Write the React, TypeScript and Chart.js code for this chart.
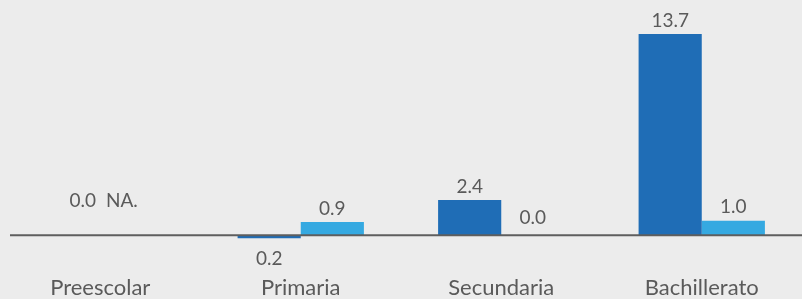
import React, { useEffect, useRef } from "react";
import { Chart, registerables } from "chart.js";

Chart.register(...registerables);

const categories = ["Preescolar", "Primaria", "Secundaria", "Bachillerato"];
const seriesA: (number | null)[] = [0.0, -0.2, 2.4, 13.7];
const seriesB: (number | null)[] = [null, 0.9, 0.0, 1.0];
const naLabel = "NA.";

const TEXT = "#5a5a5a";
const FONT = "Lato, 'Open Sans', sans-serif";

const labelPlugin = {
  id: "valueLabels",
  afterDatasetsDraw(chart: any) {
    const ctx = chart.ctx;
    const yScale = chart.scales.y;
    const zero = yScale.getPixelForValue(0);
    ctx.save();
    ctx.fillStyle = TEXT;
    ctx.font = `19px ${FONT}`;
    ctx.textAlign = "center";
    chart.data.datasets.forEach((ds: any, di: number) => {
      const meta = chart.getDatasetMeta(di);
      meta.data.forEach((el: any, i: number) => {
        const v = ds.data[i];
        const x = el.x;
        if (v === null || v === undefined) {
          ctx.textBaseline = "bottom";
          ctx.fillText(naLabel, x - 10, zero - 25);
          return;
        }
        const txt = Math.abs(v).toFixed(1);
        if (v < 0) {
          ctx.textBaseline = "top";
          ctx.fillText(txt, x, zero + 14);
        } else if (v === 0) {
          ctx.textBaseline = "bottom";
          if (i === 0) ctx.fillText(txt, x + 14, zero - 25);
          else ctx.fillText(txt, x, zero - 8);
        } else {
          ctx.textBaseline = "bottom";
          ctx.fillText(txt, x, el.y - 4);
        }
      });
    });
    ctx.strokeStyle = "#5e5e5e";
    ctx.lineWidth = 2;
    ctx.beginPath();
    ctx.moveTo(10, zero);
    ctx.lineTo(chart.width, zero);
    ctx.stroke();
    ctx.restore();
  },
};

export default function App() {
  const ref = useRef<HTMLCanvasElement>(null);
  useEffect(() => {
    if (!ref.current) return;
    const chart = new Chart(ref.current, {
      type: "bar",
      data: {
        labels: categories,
        datasets: [
          { data: seriesA as any, backgroundColor: "#1f6db6", borderWidth: 0 },
          { data: seriesB as any, backgroundColor: "#35a9e1", borderWidth: 0 },
        ],
      },
      options: {
        animation: false,
        responsive: false,
        maintainAspectRatio: false,
        layout: { padding: { top: 10, left: 0, right: 0, bottom: -5 } },
        datasets: { bar: { categoryPercentage: 0.63, barPercentage: 1 } },
        plugins: { legend: { display: false }, tooltip: { enabled: false } },
        scales: {
          x: {
            grid: { display: false, drawTicks: false },
            border: { display: false },
            ticks: { color: TEXT, font: { family: FONT, size: 22 }, padding: 3 },
          },
          y: { display: false, min: -2.47, max: 15.34 },
        },
      },
      plugins: [labelPlugin],
    });
    return () => chart.destroy();
  }, []);
  return (
    <div style={{ position: "absolute", left: 0, top: 0, width: 802, height: 299, background: "#ececec" }}>
      <canvas ref={ref} width={802} height={299} style={{ display: "block" }} />
    </div>
  );
}
